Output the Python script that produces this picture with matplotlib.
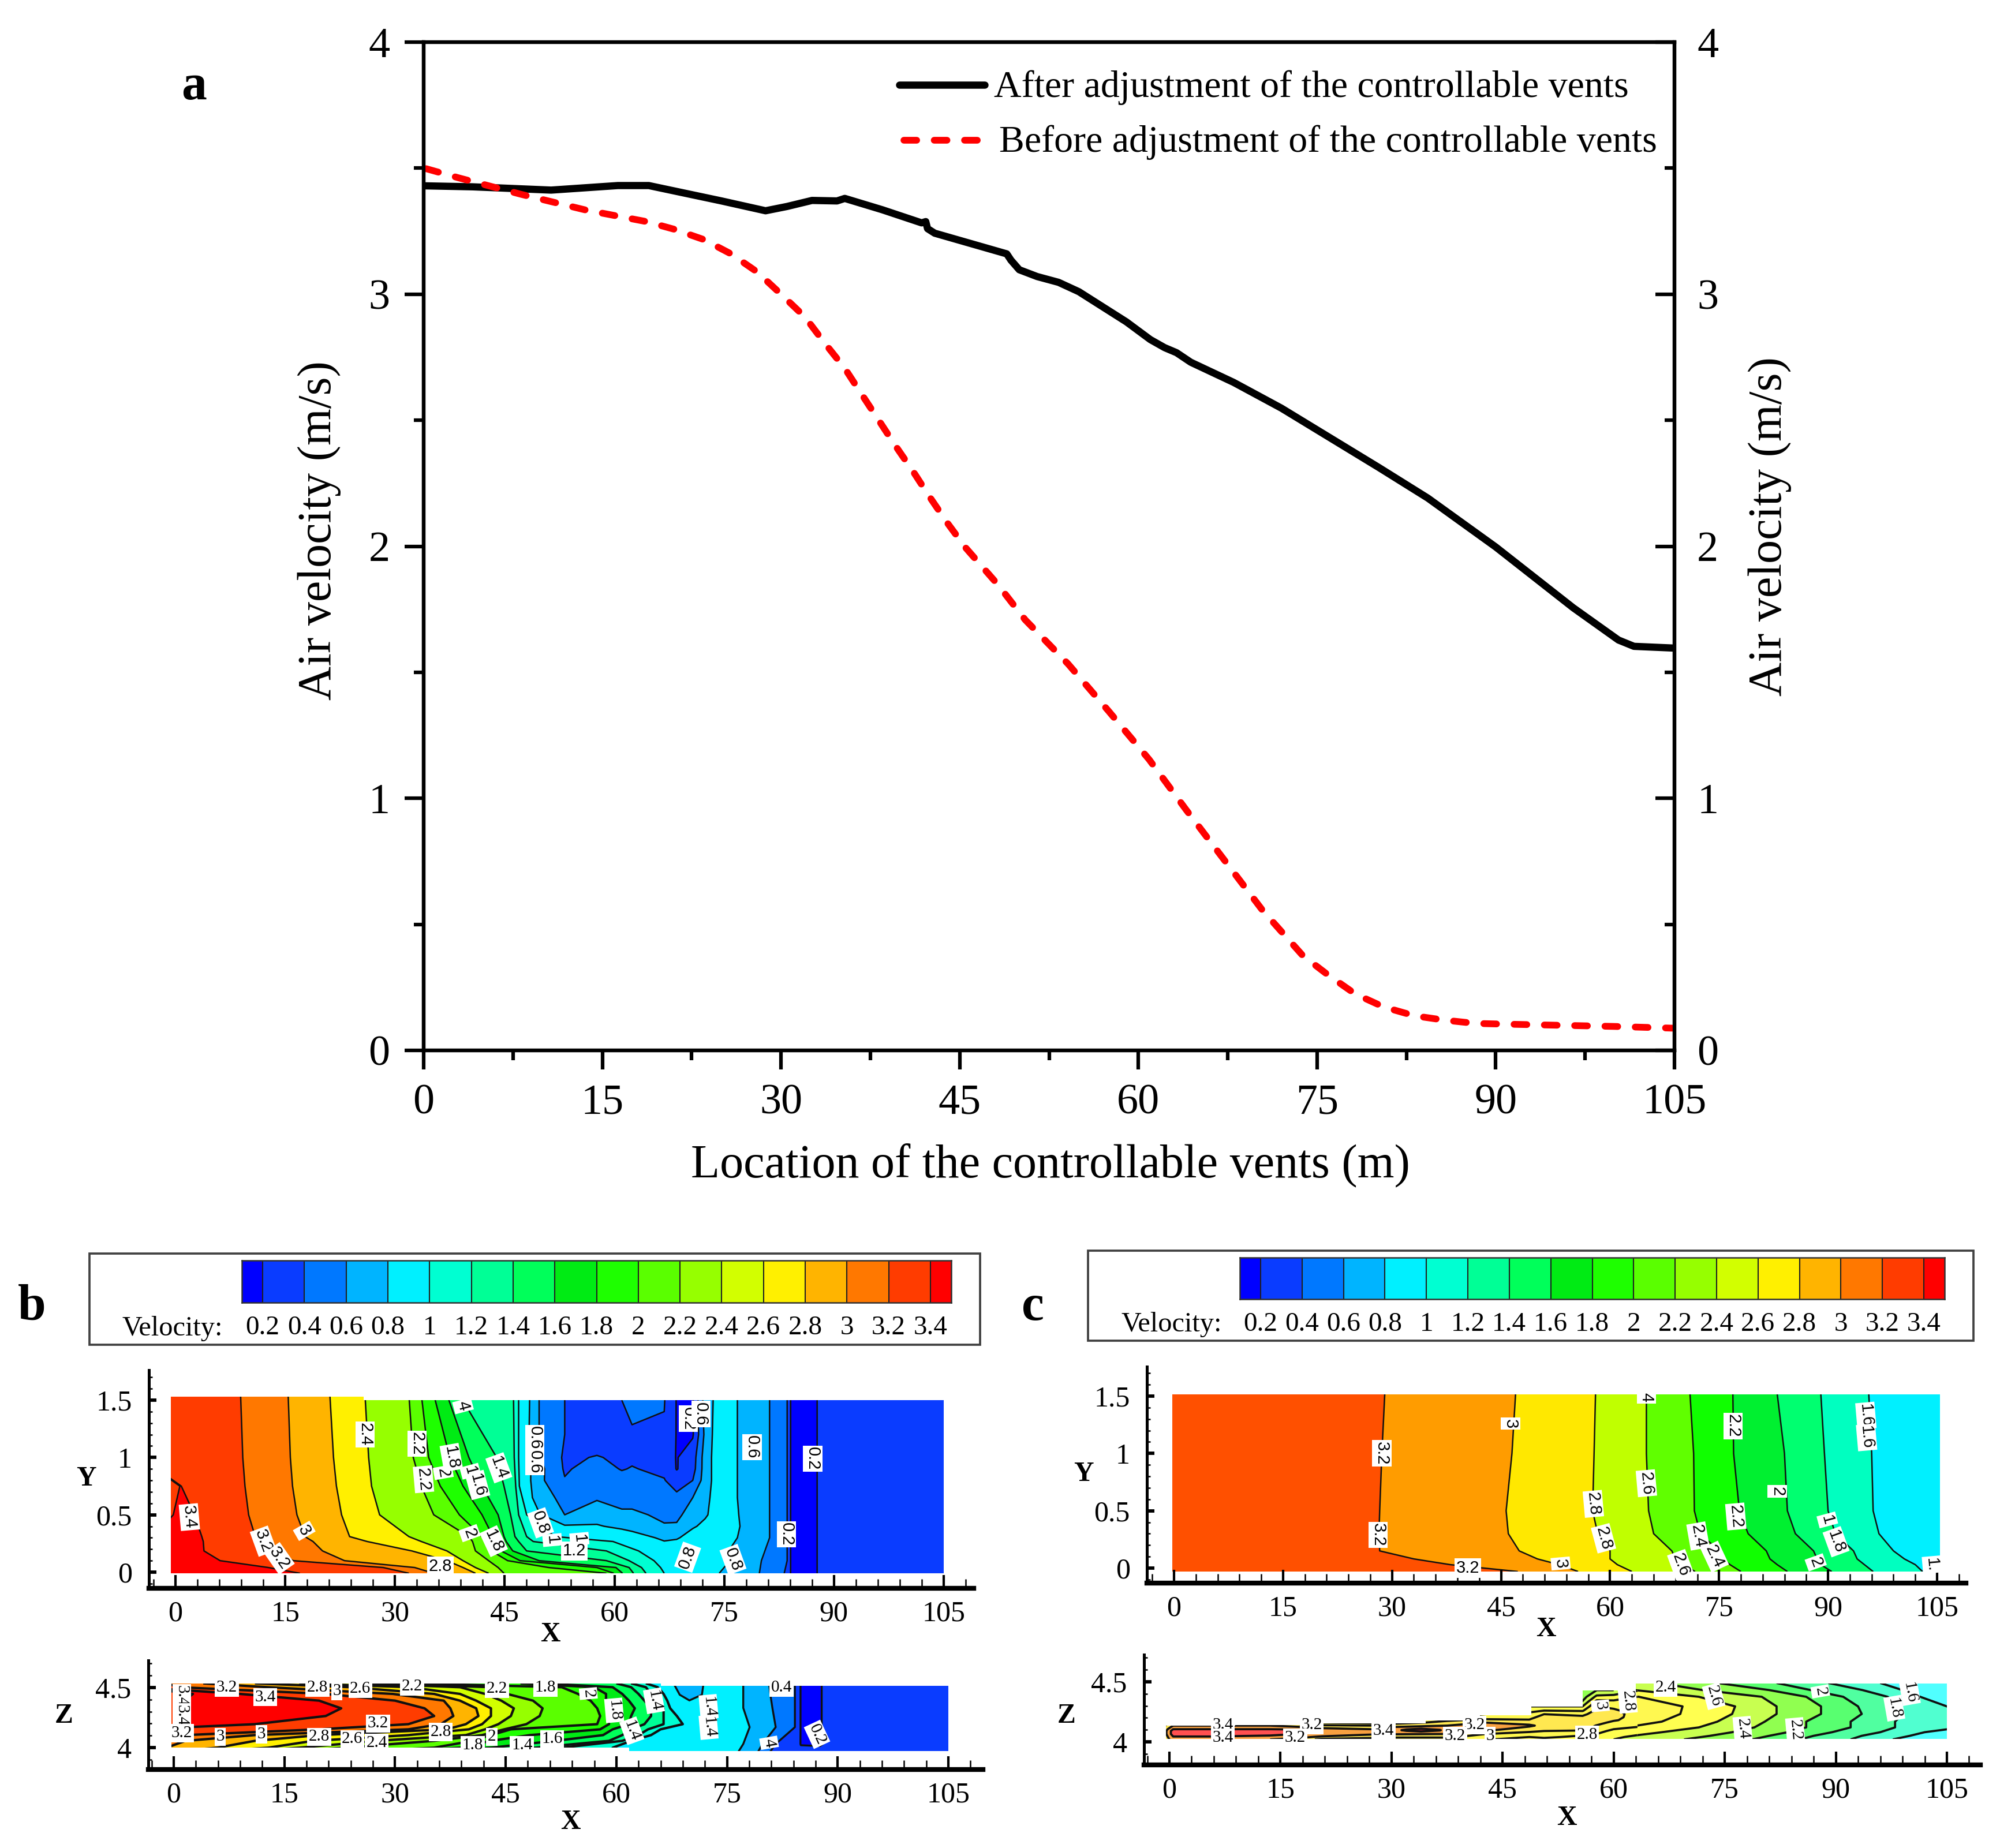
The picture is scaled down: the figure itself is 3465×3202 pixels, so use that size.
import numpy as np
import matplotlib
matplotlib.use("Agg")
import matplotlib.pyplot as plt
from matplotlib.colors import BoundaryNorm, ListedColormap
from matplotlib.lines import Line2D
from matplotlib.patches import Polygon, Rectangle
from matplotlib.ticker import MultipleLocator

W, H = 3465, 3202
plt.rcParams['font.family'] = ['Liberation Serif', 'DejaVu Serif']

# panel a
AFTER_X = [0, 4.1, 10.7, 16.3, 18.9, 22, 25, 28.7, 30.5, 32.6, 34.7, 35.35, 38.5, 41.8, 42.15, 42.3, 42.9, 46, 48.95,
           49.3, 50, 51.5, 53.3, 55, 57, 59, 61, 62.2, 63.2, 64.4, 68, 72, 76.1, 80.2, 84.3, 90, 96.5, 100.3, 101.6,
           105]
AFTER_V = [3.43, 3.426, 3.413, 3.431, 3.431, 3.40, 3.37, 3.331, 3.348, 3.372, 3.37, 3.38, 3.335, 3.283, 3.288, 3.26,
           3.242, 3.2, 3.16, 3.135, 3.097, 3.07, 3.047, 3.01, 2.95, 2.89, 2.82, 2.788, 2.768, 2.73, 2.65, 2.548, 2.43,
           2.312, 2.191, 1.997, 1.756, 1.628, 1.603, 1.596]
BEFORE_X = [0.2, 2.9, 8.2, 13.6, 18.7, 21, 23.5, 25.8, 28, 30, 32, 33.65, 35.35, 36.7, 38.2, 39.6, 41.1, 42.5, 44, 45.5,
            48.2, 50.5, 54.1, 57.5, 60.9, 64, 67.2, 70.4, 73.8, 75.9, 78.2, 80.6, 83.2, 85.7, 88.3, 90, 95, 100, 105]
BEFORE_V = [3.498, 3.462, 3.396, 3.334, 3.288, 3.258, 3.217, 3.16, 3.088, 3.0, 2.91, 2.807, 2.706, 2.608, 2.5, 2.399,
            2.296, 2.194, 2.09, 1.994, 1.848, 1.708, 1.533, 1.346, 1.154, 0.955, 0.756, 0.557, 0.376, 0.30, 0.224,
            0.172, 0.137, 0.12, 0.107, 0.105, 0.10, 0.095, 0.088]

# colour bar shared by b and c
BAR_LEVELS = [0.2, 0.4, 0.6, 0.8, 1, 1.2, 1.4, 1.6, 1.8, 2, 2.2, 2.4, 2.6, 2.8, 3, 3.2, 3.4]
BAR_LABELS = ['0.2', '0.4', '0.6', '0.8', '1', '1.2', '1.4', '1.6', '1.8', '2', '2.2', '2.4', '2.6', '2.8', '3',
              '3.2', '3.4']
BAR_COLORS = ['#0000ff', '#0a3cff', '#0078ff', '#00b4ff', '#00f0ff', '#00ffd2', '#00ff96', '#00ff5a', '#00eb14',
              '#1eff00', '#5aff00', '#96ff00', '#d2ff00', '#fff000', '#ffb400', '#ff7800', '#ff3c00', '#ff0000']

# panel b, XY plane: x where each level is crossed, one row per y
BXY_Y = [1.55, 1.0, 0.75, 0.5, 0.31, 0.267, 0.185, 0.10, 0.04, -0.01]
BXY_VALUES = [3.4, 3.6, 3.4, 3.2, 3.0, 2.8, 2.4, 2.2, 2.0, 1.8, 1.6, 1.4, 1.2, 1.0]
BXY_CROSS = [
    [-4.9, -4.8, -4.7, 8.9, 15.4, 21.1, 25.9, 31.9, 33.6, 35.3, 37.1, 38.8, 46.2, 46.9],
    [-4.9, -4.8, -4.7, 9.2, 15.7, 21.6, 26.4, 32.5, 34.6, 37.5, 40.1, 43.9, 46.3, 46.9],
    [0.6, 0.7, 0.8, 9.5, 16.0, 22.0, 26.8, 33.6, 36.2, 39.3, 41.9, 44.9, 46.5, 47.0],
    [-0.3, 1.0, 2.6, 10.0, 16.6, 22.7, 27.9, 35.3, 38.8, 41.9, 44.1, 45.8, 46.9, 48.0],
    [-3, -2, 3.6, 10.9, 17.7, 23.8, 31.9, 40.1, 41.9, 43.4, 44.9, 46.4, 48.0, 51.9],
    [-3, -2, 3.8, 11.8, 18.8, 26.2, 33.6, 40.6, 42.3, 43.6, 45.2, 46.9, 48.9, 59.8],
    [-3, -2, 3.9, 13.3, 20.1, 32.3, 37.1, 41.0, 43.2, 44.5, 46.1, 48.0, 58.9, 63.3],
    [-3, -2, 6.1, 16.1, 23.1, 37.1, 39.3, 42.8, 45.4, 47.1, 49.7, 58.9, 62.0, 65.4],
    [-3, -2, 12.7, 28.4, 32.7, 39.3, 41.0, 44.1, 51.0, 57.6, 60.2, 62.0, 63.7, 66.3],
    [-3, -2, 17.0, 31.9, 35.3, 41.0, 42.8, 44.9, 58.9, 59.9, 61.1, 62.6, 64.3, 66.8],
]
BXY_FILL_LEVELS = [1.0, 1.2, 1.4, 1.6, 1.8, 2, 2.2, 2.4, 2.8, 3, 3.2, 3.4, 4]
BXY_FILL_COLORS = ['#00ffd2', '#00ff96', '#00ff5a', '#00eb14', '#1eff00', '#5aff00', '#96ff00', '#fff000',
                   '#ffb400', '#ff7800', '#ff3c00', '#ff0000']
# slow region right of the 1.0 line
BXY_LOW_X = [44, 46.9, 48.4, 49.7, 53.2, 57.6, 61, 62.4, 66.8, 68.5, 70.7, 72.4, 73.7, 76.8, 79.8, 81.2, 83.6, 84.1,
             87.7, 89.4, 105]
BXY_LOW_Y = [1.5, 1.2, 1.0, 0.9, 0.8, 0.65, 0.5, 0.4, 0.3, 0.2, 0.1, -0.01]
BXY_LOW = [
    [1.1, 1.0, .8, .6, .4, .3, .4, .45, .41, .19, .18, .7, .82, .8, .65, .6, .4, .19, .2, .25, .25],
    [1.1, 1.0, .79, .6, .4, .3, .36, .38, .38, .19, .18, .65, .85, .8, .65, .6, .4, .19, .2, .25, .25],
    [1.1, 1.0, .8, .62, .37, .41, .37, .37, .3, .19, .3, .7, .85, .8, .65, .6, .4, .19, .2, .25, .25],
    [1.1, 1.0, .82, .66, .38, .47, .39, .41, .36, .19, .32, .7, .85, .8, .65, .6, .4, .19, .2, .25, .25],
    [1.1, 1.0, .82, .65, .41, .48, .46, .46, .41, .3, .4, .7, .85, .8, .65, .6, .4, .19, .2, .25, .25],
    [1.1, 1.0, .85, .68, .55, .58, .5, .5, .45, .45, .6, .75, .85, .8, .65, .6, .4, .19, .2, .25, .25],
    [1.1, 1.05, .95, .82, .6, .7, .65, .65, .55, .56, .68, .78, .85, .81, .65, .6, .4, .19, .2, .25, .25],
    [1.1, 1.1, 1.0, .88, .82, .82, .75, .72, .62, .62, .78, .84, .88, .82, .65, .6, .4, .19, .2, .25, .25],
    [1.1, 1.1, 1.05, 1.0, .95, .97, .95, .9, .76, .78, .88, .9, .88, .8, .65, .6, .4, .19, .2, .25, .25],
    [1.1, 1.1, 1.1, 1.1, 1.15, 1.2, 1.15, 1.1, .9, .92, .92, .9, .88, .76, .63, .58, .4, .19, .2, .25, .25],
    [1.1, 1.1, 1.1, 1.1, 1.1, 1.1, 1.1, 1.1, .98, .95, .92, .9, .88, .76, .62, .52, .4, .19, .2, .25, .25],
    [1.1, 1.1, 1.1, 1.1, 1.1, 1.1, 1.1, 1.1, 1.0, .95, .9, .86, .82, .72, .6, .5, .38, .19, .2, .25, .25],
]
BXY_OUTLINE_X = [-0.6, 25.7, 25.7, 105.1, 105.1, -0.6]
BXY_OUTLINE_Y = [1.53, 1.53, 1.5, 1.5, -0.01, -0.01]
BXY_TEXT = ['3.4', '3.2', '3.2', '3', '2.8', '2.4', '2.2', '2.2', '2', '1.8', '1', '1.6', '1.4', '4', '0.6', '0.6',
            '0.8', '1', '1', '1.2', '2', '1.8', '0.8', '0.8', '0.2', '0.2', '0.6', '0.2', '0.6']
BXY_TEXT_X = [1.9, 12, 14.2, 17.6, 36.2, 25.9, 33, 33.9, 36.6, 37.7, 40.3, 41.3, 44.2, 39.3, 49.1, 49.1,
              49.9, 51.5, 55.2, 54.5, 40.2, 43.5, 70, 76.2, 87.1, 83.5, 78.8, 70.1, 71.8]
BXY_TEXT_Y = [.48, .27, .12, .36, .05, 1.2, 1.12, .81, .87, 1.0, .88, .76, .91, 1.45, 1.17, .96,
              .43, .28, .29, .185, .34, .27, .13, .11, .99, .33, 1.09, 1.34, 1.38]
BXY_TEXT_R = [-85, -70, -55, -60, 0, -90, -90, -85, -80, -80, -75, -75, -70, -75, -90, -90,
              -70, -85, -85, 0, -70, -65, 70, -70, -90, -90, -90, -90, -90]

# panel b, XZ plane: first three columns trace the hot core
BXZ_Z = [4.535, 4.503, 4.447, 4.391, 4.327, 4.263, 4.195, 4.152, 4.104, 4.056, 3.999, 3.968]
BXZ_VALUES = [3.4, 3.6, 3.4, 3.2, 3.0, 2.8, 2.6, 2.4, 2.2, 2.0, 1.8, 1.6, 1.4, 1.2, 1.0]
BXZ_CROSS = [
    [-4.9, -4.8, -4.7, -1, 4, 11, 17, 25, 28, 32, 47, 50, 60, 62, 64],
    [-4.9, -4.8, -4.7, 0.7, 12.8, 24, 32, 38.8, 43, 52.6, 57, 59.5, 62, 64, 65.6],
    [2.6, 5, 9, 20.6, 29.7, 35.3, 38.8, 42.2, 45.2, 54.8, 58.6, 60.8, 63, 64.7, 66.4],
    [1.4, 5, 19.7, 30, 36.6, 38.8, 41, 44.4, 48.7, 56.5, 58.6, 61.7, 63.8, 65.6, 66.9],
    [1, 5, 22.7, 34, 37.5, 41, 43, 46.1, 50, 57.4, 59, 62.5, 64.7, 66.4, 67.3],
    [1, 5, 20.6, 35.3, 37.9, 41.3, 43, 45.7, 49.6, 57.8, 59, 62, 64.7, 66.4, 68.2],
    [1.5, 3, 11, 31.8, 36.2, 39.6, 41.8, 44, 47.8, 57.4, 59, 61.7, 63.8, 66.4, 69],
    [-4.9, -4.8, -4.7, 19.7, 31.8, 37, 40, 42.2, 44.8, 45.7, 57.8, 59.5, 62, 64.3, 66],
    [-4.9, -4.8, -4.7, 1.6, 11, 19.7, 31.8, 39.6, 41.8, 43, 48.3, 58.2, 60.8, 63, 64.7],
    [-4.9, -4.8, -4.7, -1, 1.6, 11, 18.9, 27.5, 35.3, 40.5, 43, 51.7, 59, 60.8, 62],
    [-4.9, -4.8, -4.7, -1.5, -1, 5.9, 12.8, 17, 23.2, 35.3, 38.8, 43, 49, 52.6, 59.5],
    [-4.9, -4.8, -4.7, -1.5, -1, 0, 5, 10, 15, 25, 30, 35, 42, 48, 61.7],
]
BXZ_LOW_X = [55, 64.7, 66.4, 69.9, 71.6, 73.4, 77.2, 79.8, 81.6, 84.2, 85, 87.6, 89, 105]
BXZ_LOW_Z = [4.535, 4.44, 4.33, 4.17, 4.03, 3.968]
BXZ_LOW = [
    [1.1, 1.0, .85, .72, .78, .95, .8, .62, .58, .4, .19, .19, .25, .25],
    [1.1, 1.0, .9, .74, .8, .93, .8, .63, .58, .4, .19, .19, .25, .25],
    [1.1, 1.0, .95, .88, .85, .9, .8, .66, .58, .4, .19, .19, .25, .25],
    [1.1, 1.05, 1.02, .95, .9, .92, .85, .7, .6, .4, .19, .19, .25, .25],
    [1.1, 1.05, 1.02, .97, .92, .9, .8, .6, .4, .35, .19, .18, .25, .25],
    [1.1, 1.05, 1.02, .97, .92, .9, .78, .55, .3, .28, .25, .25, .25, .25],
]
BXZ_OUTLINE_X = [-0.3, 66, 66, 105.2, 105.2, 61.7, 61.7, -0.3]
BXZ_OUTLINE_Z = [4.535, 4.535, 4.516, 4.516, 3.97, 3.97, 4.0, 4.0]
BXZ_TEXT = ['3.2', '3.4', '3', '2.8', '2.6', '2.2', '2.2', '1.8', '2', '1.8', '3.4', '3.4', '3.2', '2.8', '3.2', '3',
            '3', '2.8', '2.6', '2.4', '1.8', '2', '1.4', '1.6', '0.2', '0.4', '1.4', '1.4', '1.4', '1.4', '4']
BXZ_TEXT_X = [7.2, 12.4, 22.1, 19.5, 25.3, 32.3, 43.8, 50.4, 56.2, 59.7, 1.1, 1.1, 27.7, 36.2, 1.1, 6.3,
              11.9, 19.7, 24.2, 27.5, 40.5, 43.1, 47.2, 51.3, 87.2, 82.4, 62.1, 65.1, 72.5, 72.5, 80.7]
BXZ_TEXT_Z = [4.5, 4.42, 4.47, 4.5, 4.49, 4.51, 4.49, 4.5, 4.45, 4.31, 4.43, 4.27, 4.2, 4.13, 4.12, 4.09,
              4.11, 4.09, 4.07, 4.04, 4.02, 4.09, 4.02, 4.07, 4.11, 4.5, 4.14, 4.39, 4.34, 4.17, 4.04]
BXZ_TEXT_R = [0, 0, 0, 0, 0, 0, 0, 0, -85, -85, -90, -90, 0, 0, 0, 0,
              0, 0, 0, 0, 0, 0, 0, 0, -65, 0, -70, -80, -85, -85, -80]

# panel c, XY plane
CXY_Y = [-0.03, 0.03, 0.08, 0.15, 0.3, 0.5, 1.0, 1.52]
CXY_VALUES = [3.2, 3.0, 2.8, 2.6, 2.4, 2.2, 2.0, 1.8, 1.6]
CXY_CROSS = [
    [47.3, 55.6, 63, 71.7, 78, 84.4, 90.5, 96.2, 103],
    [38, 53, 61, 70, 76.5, 83, 89, 95, 102],
    [33, 50, 60, 69, 75.5, 82, 88.5, 94, 100.5],
    [28.3, 47.5, 60, 68.5, 75, 81.5, 88, 93.5, 99],
    [28.2, 46, 58.3, 66, 72.4, 79, 85.5, 91, 97],
    [28.3, 45.7, 57.6, 65.3, 71.6, 77.8, 84.4, 90, 96.2],
    [28.6, 46.5, 57.8, 65, 71.5, 77, 84, 89.5, 96],
    [29, 47, 58, 65, 71, 76.9, 83, 89, 95.6],
]
CXY_FILL_LEVELS = [1.0, 1.6, 1.8, 2, 2.2, 2.4, 2.6, 2.8, 3, 3.2, 4]
CXY_FILL_COLORS = ['#00f0ff', '#00ffc0', '#00ff70', '#00f030', '#10ff00', '#60ff00', '#c0ff00', '#ffe800',
                   '#ff9c00', '#ff5000']
CXY_OUTLINE_X = [-0.2, 105.4, 105.4, -0.2]
CXY_OUTLINE_Y = [1.515, 1.515, -0.03, -0.03]
CXY_TEXT = ['3.2', '3.2', '3.2', '3', '3', '2.8', '2.8', '2.6', '2.6', '2.4', '2.4', '2.2', '2.2', '2', '2', '1',
            '1.8', '1.6', '1.6', '1.', '4']
CXY_TEXT_X = [28.6, 28.1, 40.4, 46.3, 53.2, 57.7, 59.1, 65, 69.7, 72.1, 74.4, 76.9, 77.3, 83, 88.3, 89.9,
              91.1, 95.2, 95.3, 104.3, 65]
CXY_TEXT_Y = [1.0, .29, 0, 1.26, .04, .56, .26, .74, .03, .28, .1, 1.24, .45, .67, .05, .42,
              .23, 1.33, 1.14, .03, 1.49]
CXY_TEXT_R = [-90, -90, 0, -90, -85, -85, -75, -85, -70, -80, -65, -90, -85, -90, -70, -75,
              -70, -85, -85, -85, -90]

# panel c, XZ plane: right part by level crossings, left part on a plain grid
CXZ_Z = [4.02, 4.05, 4.08, 4.12, 4.168, 4.232, 4.295, 4.375, 4.431, 4.49]
CXZ_VALUES = [3.4, 3.2, 3.0, 2.8, 2.6, 2.4, 2.2, 2.0, 1.8, 1.6]
CXZ_CROSS = [
    [-6, 14, 29, 49.7, 59.8, 69.5, 78.7, 85.2, 92, 97.7],
    [-5, 18, 36, 52, 62.5, 73, 81, 87, 93.5, 100],
    [27, 37, 45, 57.5, 66.5, 76, 83.5, 89.5, 96, 102],
    [-3, 36, 51, 61.6, 71.5, 79, 86, 92, 98, 107],
    [-3, 50, 59, 66.5, 74, 80.4, 86, 92, 98, 108],
    [-3, -1, 61.2, 69, 76, 82, 88, 93.5, 99, 107],
    [-3, -2, 56, 69.3, 76.4, 82, 88, 93, 98.5, 105],
    [-3, -2, 50, 63.4, 71.5, 80, 86, 91, 97, 101.4],
    [-3, -2, 30, 50, 62.8, 72, 81, 86.6, 93.6, 99],
    [-3, -2, 20, 40, 55, 66, 74, 82, 89, 96],
]
CXZ_FILL_LEVELS = [1.0, 1.6, 1.8, 2, 2.2, 2.4, 2.6, 2.8, 3, 3.2, 3.4, 4]
CXZ_FILL_COLORS = ['#50ffff', '#50ffd0', '#50ffa0', '#58ff70', '#90ff50', '#c8ff50', '#ffff50', '#fff850',
                   '#ffe850', '#f8a040', '#ff5050']
CXZ_LEFT_X = [-1, 0.5, 5.8, 13.6, 17.7, 20.6, 27.3, 30.2, 37.5, 42.7, 48.6, 50.6, 55.8, 57.7, 60, 63.2]
CXZ_LEFT_Z = [4.02, 4.04, 4.065, 4.09, 4.105, 4.135, 4.16, 4.18, 4.205, 4.23, 4.26, 4.295, 4.34, 4.375, 4.43]
# one inner list per x
CXZ_LEFT = [
    [3.0, 3.0, 3.0, 3.0, 3.0, 2.95, 2.9, 2.8, 2.7, 2.6, 2.5, 2.4, 2.3, 2.2, 2.1],
    [3.3, 3.38, 3.5, 3.5, 3.4, 3.2, 3.0, 2.9, 2.8, 2.7, 2.6, 2.5, 2.4, 2.3, 2.2],
    [3.3, 3.38, 3.5, 3.5, 3.4, 3.2, 3.0, 2.9, 2.8, 2.7, 2.6, 2.5, 2.4, 2.3, 2.2],
    [3.2, 3.3, 3.5, 3.5, 3.4, 3.2, 3.0, 2.9, 2.8, 2.7, 2.6, 2.5, 2.4, 2.3, 2.2],
    [3.1, 3.26, 3.39, 3.48, 3.38, 3.1, 2.9, 2.8, 2.7, 2.6, 2.5, 2.4, 2.3, 2.2, 2.1],
    [2.95, 3.15, 3.37, 3.4, 3.27, 3.03, 2.8, 2.7, 2.6, 2.5, 2.4, 2.3, 2.2, 2.1, 2.0],
    [2.9, 3.07, 3.23, 3.4, 3.2, 3.0, 2.75, 2.7, 2.6, 2.5, 2.4, 2.3, 2.2, 2.1, 2.0],
    [2.9, 3.03, 3.22, 3.3, 3.28, 3.15, 2.9, 2.8, 2.7, 2.6, 2.5, 2.4, 2.3, 2.2, 2.1],
    [2.9, 3.03, 3.2, 3.27, 3.27, 3.2, 3.07, 2.97, 2.8, 2.7, 2.6, 2.5, 2.4, 2.3, 2.2],
    [2.82, 2.92, 3.0, 3.2, 3.26, 3.26, 3.2, 3.05, 2.9, 2.8, 2.7, 2.6, 2.5, 2.4, 2.3],
    [2.7, 2.8, 2.94, 3.03, 3.12, 3.23, 3.13, 3.02, 2.92, 2.85, 2.75, 2.6, 2.5, 2.4, 2.3],
    [2.75, 2.83, 2.92, 3.0, 3.07, 3.15, 3.2, 3.15, 3.1, 3.0, 2.8, 2.6, 2.5, 2.4, 2.3],
    [2.7, 2.76, 2.84, 2.98, 3.05, 3.1, 3.1, 3.08, 3.04, 2.95, 2.78, 2.6, 2.4, 2.3, 2.2],
    [2.65, 2.72, 2.8, 2.87, 2.93, 2.99, 3.07, 3.1, 3.1, 3.1, 3.05, 3.0, 2.83, 2.65, 2.4],
    [2.6, 2.64, 2.69, 2.75, 2.8, 2.86, 2.95, 3.02, 3.05, 3.06, 3.03, 2.96, 2.82, 2.68, 2.4],
    [2.5, 2.55, 2.63, 2.7, 2.75, 2.83, 2.88, 2.92, 2.93, 2.93, 2.92, 2.9, 2.86, 2.8, 2.58],
]
CXZ_HOT_X = [30, 32, 34, 36.5, 37.5]
CXZ_HOT_Z = [4.08, 4.097, 4.115]
CXZ_HOT = [[3.3, 3.3, 3.3, 3.3, 3.3], [3.3, 3.45, 3.6, 3.42, 3.3], [3.3, 3.3, 3.3, 3.3, 3.3]]
CXZ_OUTLINE_X = [-0.5, 8.9, 8.9, 20.6, 20.6, 34.6, 34.6, 41.9, 41.9, 48.9, 48.9, 55.8, 55.8, 63, 63, 105, 105, -0.5]
CXZ_OUTLINE_Z = [4.135, 4.135, 4.14, 4.14, 4.155, 4.155, 4.176, 4.176, 4.22, 4.22, 4.295, 4.295, 4.43, 4.43, 4.487,
                 4.487, 4.023, 4.023]
CXZ_TEXT = ['3.4', '3.4', '3.2', '3.2', '3.4', '3.2', '3.2', '3', '3', '2.8', '2.8', '2.4', '2.6', '2', '1.6', '1.8',
            '2.4', '2.2']
CXZ_TEXT_X = [7.2, 7.2, 19.2, 17, 28.9, 41.2, 38.6, 43.3, 58.2, 61.9, 56.4, 67, 73.5, 87.9, 100, 97.9, 77.4, 84.5]
CXZ_TEXT_Z = [4.14, 4.035, 4.14, 4.035, 4.09, 4.14, 4.05, 4.05, 4.3, 4.34, 4.06, 4.45, 4.38, 4.42, 4.41, 4.28, 4.11,
              4.1]
CXZ_TEXT_R = [0, 0, 0, 0, 0, 0, 0, 0, -85, -85, 0, 0, -75, -80, -80, -80, -85, -85]

X_TICKS = [0, 15, 30, 45, 60, 75, 90, 105]
RED_DASH = (0, (1.9, 2.6))

fig = plt.figure(figsize=(W / 300, H / 300), dpi=300, facecolor='white')


def pixel_axes(left, top, right, bottom, **kwargs):
    return fig.add_axes([left / W, 1 - bottom / H, (right - left) / W, (bottom - top) / H], **kwargs)


page = pixel_axes(0, 0, W, H, zorder=5)
page.set_xlim(0, W)
page.set_ylim(H, 0)
page.axis('off')


def curved_grid(cross, rows, values, left_x, left_v, right_x=None, right_v=None):
    cross = np.array(cross, dtype=float)
    xs = [np.full(len(rows), left_x), cross]
    vs = [left_v] + list(values)
    if right_x is None:
        xs.append(cross[:, -1] + 3)
        vs.append(right_v)
    else:
        xs.append(np.full(len(rows), right_x))
        vs.append(right_v)
    X = np.column_stack(xs)
    Y = np.repeat(np.array(rows, dtype=float)[:, None], X.shape[1], axis=1)
    V = np.tile(np.array(vs, dtype=float), (len(rows), 1))
    return X, Y, V


def clip_outline(ax, xs, ys):
    patch = Polygon(np.column_stack([xs, ys]), closed=True, fc='none', ec='none', transform=ax.transData)
    ax.add_patch(patch)
    return patch


def fill_lines(ax, X, Y, V, fill_levels, fill_colors, line_levels, outline, lw, zorder=1):
    filled = ax.contourf(X, Y, V, levels=fill_levels, colors=fill_colors, zorder=zorder)
    lines = ax.contour(X, Y, V, levels=line_levels, colors='#101010', linewidths=lw, zorder=zorder + 0.5)
    filled.set_clip_path(outline)
    lines.set_clip_path(outline)


def labels(ax, texts, xs, ys, rots, size=7, family='Liberation Sans'):
    for t, x, y, r in zip(texts, xs, ys, rots):
        ax.text(x, y, t, rotation=r, ha='center', va='center', fontsize=size, family=family, zorder=4,
                bbox=dict(fc='white', ec='none', pad=0.6))


def style_field(ax, x0_px, x105_px, left, right, y_ticks, y_labels, y_minor, y_a_px, y_a, y_b_px, y_b, top, bottom):
    px_per_x = (x105_px - x0_px) / 105
    ax.set_xlim((left - x0_px) / px_per_x, (right - x0_px) / px_per_x)
    px_per_y = (y_b_px - y_a_px) / (y_b - y_a)
    ax.set_ylim(y_a + (bottom - y_a_px) / px_per_y, y_a + (top - y_a_px) / px_per_y)
    ax.set_xticks(X_TICKS)
    ax.set_yticks(y_ticks)
    ax.set_yticklabels(y_labels)
    ax.xaxis.set_minor_locator(MultipleLocator(3))
    ax.yaxis.set_minor_locator(MultipleLocator(y_minor))
    ax.spines['top'].set_visible(False)
    ax.spines['right'].set_visible(False)
    ax.spines['left'].set_linewidth(1.2)
    ax.spines['bottom'].set_linewidth(2.0)
    ax.tick_params(axis='x', which='major', direction='in', length=5.5, width=1.0, labelsize=12, pad=5)
    ax.tick_params(axis='x', which='minor', direction='in', length=3.8, width=0.6)
    ax.tick_params(axis='y', which='major', direction='in', length=3.2, width=1.4, labelsize=12, pad=7)
    ax.tick_params(axis='y', which='minor', direction='in', length=1.5, width=0.6)
    ax.patch.set_alpha(0)


def axis_names(ax, xname, x_at, yname, y_at):
    ax.set_xlabel(xname, fontsize=11.5, fontweight='bold', va='center', ha='center')
    ax.xaxis.set_label_coords(x_at[0], x_at[1], transform=page.transData)
    ax.set_ylabel(yname, fontsize=11.5, fontweight='bold', rotation=0, va='center', ha='center')
    ax.yaxis.set_label_coords(y_at[0], y_at[1], transform=page.transData)


def colour_bar(box, bar, velocity_x):
    page.add_patch(Rectangle((box[0], box[1]), box[2] - box[0], box[3] - box[1], fc='white', ec='#404040', lw=0.9,
                             zorder=0))
    ax = pixel_axes(bar[0], bar[1], bar[2], bar[3], zorder=6)
    edges = [0.1] + BAR_LEVELS + [3.5]
    centres = [(a + b) / 2 for a, b in zip(edges[:-1], edges[1:])]
    ax.pcolormesh(edges, [0, 1], [centres], cmap=ListedColormap(BAR_COLORS), norm=BoundaryNorm(edges, len(BAR_COLORS)))
    ax.vlines(BAR_LEVELS, 0, 1, colors='#202020', linewidth=0.5)
    ax.set_xlim(0.1, 3.5)
    ax.set_ylim(0, 1)
    ax.set_yticks([])
    ax.set_xticks(BAR_LEVELS)
    ax.set_xticklabels(BAR_LABELS, fontsize=11.3)
    ax.tick_params(axis='x', length=0, pad=5.5)
    for side in ax.spines:
        ax.spines[side].set_linewidth(0.6)
        ax.spines[side].set_color('#303030')
    page.text(velocity_x, box[3] - 28, 'Velocity:', fontsize=11.6, ha='center', va='center')


# panel a
ax = pixel_axes(734, 73, 2901, 1820, zorder=2)
ax.plot(BEFORE_X, BEFORE_V, color='#ff0000', lw=2.8, ls=RED_DASH, dash_capstyle='round', zorder=3)
ax.plot(AFTER_X, AFTER_V, color='black', lw=3.0, zorder=2)
ax.set_xlim(0, 105)
ax.set_ylim(0, 4)
ax.set_xticks(X_TICKS)
ax.set_yticks([0, 1, 2, 3, 4])
ax.xaxis.set_minor_locator(MultipleLocator(7.5))
ax.yaxis.set_minor_locator(MultipleLocator(0.5))
ax.tick_params(axis='both', which='major', direction='out', length=8, width=1.5, labelsize=17.8, pad=6)
ax.tick_params(axis='both', which='minor', direction='out', length=4, width=1.5)
for side in ax.spines:
    ax.spines[side].set_linewidth(1.5)
ax.set_xlabel('Location of the controllable vents (m)', fontsize=19.7, va='center', ha='center')
ax.xaxis.set_label_coords(1820, 2019, transform=page.transData)
ax.set_ylabel('Air velocity (m/s)', fontsize=19.7, va='center', ha='center')
ax.yaxis.set_label_coords(553, 919, transform=page.transData)

ax_r = ax.twinx()
ax_r.set_ylim(0, 4)
ax_r.set_yticks([0, 1, 2, 3, 4])
ax_r.yaxis.set_minor_locator(MultipleLocator(0.5))
ax_r.tick_params(axis='y', which='major', direction='in', length=8, width=1.5, labelsize=17.8, pad=9.4)
ax_r.tick_params(axis='y', which='minor', direction='in', length=4, width=1.5)
ax_r.set_ylabel('Air velocity (m/s)', fontsize=19.7, va='center', ha='center')
ax_r.yaxis.set_label_coords(3066, 912, transform=page.transData)
for side in ax_r.spines:
    ax_r.spines[side].set_linewidth(1.5)

page.add_line(Line2D([1558, 1706], [147, 147], color='black', lw=3.0, solid_capstyle='round'))
page.add_line(Line2D([1566, 1696], [243, 243], color='#ff0000', lw=2.8, ls=RED_DASH, dash_capstyle='round'))
page.text(1722, 168, 'After adjustment of the controllable vents', fontsize=15.8, ha='left', va='baseline')
page.text(1731, 263, 'Before adjustment of the controllable vents', fontsize=15.8, ha='left', va='baseline')
page.text(336, 150, 'a', fontsize=21, fontweight='bold', ha='center', va='center')
page.text(55, 2265, 'b', fontsize=21, fontweight='bold', ha='center', va='center')
page.text(1789, 2265, 'c', fontsize=21, fontweight='bold', ha='center', va='center')

colour_bar((155, 2172, 1698, 2330), (419, 2184, 1648, 2257), 299)
colour_bar((1885, 2167, 3419, 2323), (2148, 2179, 3369, 2251), 2030)

# b, XY
ax = pixel_axes(258, 2374, 1687, 2752, zorder=2)
style_field(ax, 304, 1635, 258, 1687, [0, 0.5, 1, 1.5], ['0', '0.5', '1', '1.5'], 0.1, 2724, 0, 2426, 1.5, 2374, 2752)
outline = clip_outline(ax, BXY_OUTLINE_X, BXY_OUTLINE_Y)
fill_lines(ax, BXY_LOW_X, BXY_LOW_Y, np.array(BXY_LOW), [-1, .2, .4, .6, .8, 5], BAR_COLORS[:5], [.2, .4, .6, .8],
           outline, 0.6)
X, Y, V = curved_grid(BXY_CROSS, BXY_Y, BXY_VALUES, -5, 3.3, right_v=0.9)
fill_lines(ax, X, Y, V, BXY_FILL_LEVELS, BXY_FILL_COLORS, BXY_FILL_LEVELS[:-1], outline, 0.6, zorder=2)
labels(ax, BXY_TEXT, BXY_TEXT_X, BXY_TEXT_Y, BXY_TEXT_R)
axis_names(ax, 'X', (953, 2832), 'Y', (149, 2562))

# b, XZ
ax = pixel_axes(257, 2877, 1703, 3066, zorder=2)
style_field(ax, 301, 1643, 257, 1703, [4, 4.5], ['4', '4.5'], 0.1, 3028, 4, 2924, 4.5, 2877, 3066)
outline = clip_outline(ax, BXZ_OUTLINE_X, BXZ_OUTLINE_Z)
fill_lines(ax, BXZ_LOW_X, BXZ_LOW_Z, np.array(BXZ_LOW), [-1, .2, .4, .6, .8, 5], BAR_COLORS[:5], [.2, .4, .6, .8],
           outline, 0.8)
X, Y, V = curved_grid(BXZ_CROSS, BXZ_Z, BXZ_VALUES, -5, 3.25, right_v=0.9)
levels = [1.0, 1.2, 1.4, 1.6, 1.8, 2, 2.2, 2.4, 2.6, 2.8, 3, 3.2, 3.4, 4]
fill_lines(ax, X, Y, V, levels, BAR_COLORS[5:], levels[:-1], outline, 1.0, zorder=2)
labels(ax, BXZ_TEXT, BXZ_TEXT_X, BXZ_TEXT_Z, BXZ_TEXT_R, size=7, family='Liberation Serif')
axis_names(ax, 'X', (988, 3157), 'Z', (111, 2973))

# c, XY
ax = pixel_axes(1987, 2368, 3406, 2743, zorder=2)
style_field(ax, 2034, 3356, 1987, 3406, [0, 0.5, 1, 1.5], ['0', '0.5', '1', '1.5'], 0.1, 2717, 0, 2419, 1.5, 2368, 2743)
outline = clip_outline(ax, CXY_OUTLINE_X, CXY_OUTLINE_Y)
X, Y, V = curved_grid(CXY_CROSS, CXY_Y, CXY_VALUES, -5, 3.3, right_x=112, right_v=1.5)
fill_lines(ax, X, Y, V, CXY_FILL_LEVELS, CXY_FILL_COLORS, CXY_FILL_LEVELS[1:-1], outline, 0.6)
labels(ax, CXY_TEXT, CXY_TEXT_X, CXY_TEXT_Y, CXY_TEXT_R)
axis_names(ax, 'X', (2678, 2823), 'Y', (1877, 2554))

# c, XZ
ax = pixel_axes(1982, 2867, 3431, 3058, zorder=2)
style_field(ax, 2026, 3373, 1982, 3431, [4, 4.5], ['4', '4.5'], 0.1, 3018, 4, 2914, 4.5, 2867, 3058)
outline = clip_outline(ax, CXZ_OUTLINE_X, CXZ_OUTLINE_Z)
X, Y, V = curved_grid(CXZ_CROSS, CXZ_Z, CXZ_VALUES, -8, 3.6, right_x=112, right_v=1.4)
fill_lines(ax, X, Y, V, CXZ_FILL_LEVELS, CXZ_FILL_COLORS, CXZ_FILL_LEVELS[1:-1], outline, 0.9)
fill_lines(ax, CXZ_LEFT_X, CXZ_LEFT_Z, np.array(CXZ_LEFT).T, CXZ_FILL_LEVELS, CXZ_FILL_COLORS,
           [2.4, 2.6, 2.8, 3, 3.2, 3.4], outline, 0.9, zorder=2)
fill_lines(ax, CXZ_HOT_X, CXZ_HOT_Z, np.array(CXZ_HOT), [3.4, 4], ['#b02030'], [3.4], outline, 0.9, zorder=3)
labels(ax, CXZ_TEXT, CXZ_TEXT_X, CXZ_TEXT_Z, CXZ_TEXT_R, size=7, family='Liberation Serif')
axis_names(ax, 'X', (2714, 3150), 'Z', (1848, 2973))

fig.savefig('out.png', dpi=300)
